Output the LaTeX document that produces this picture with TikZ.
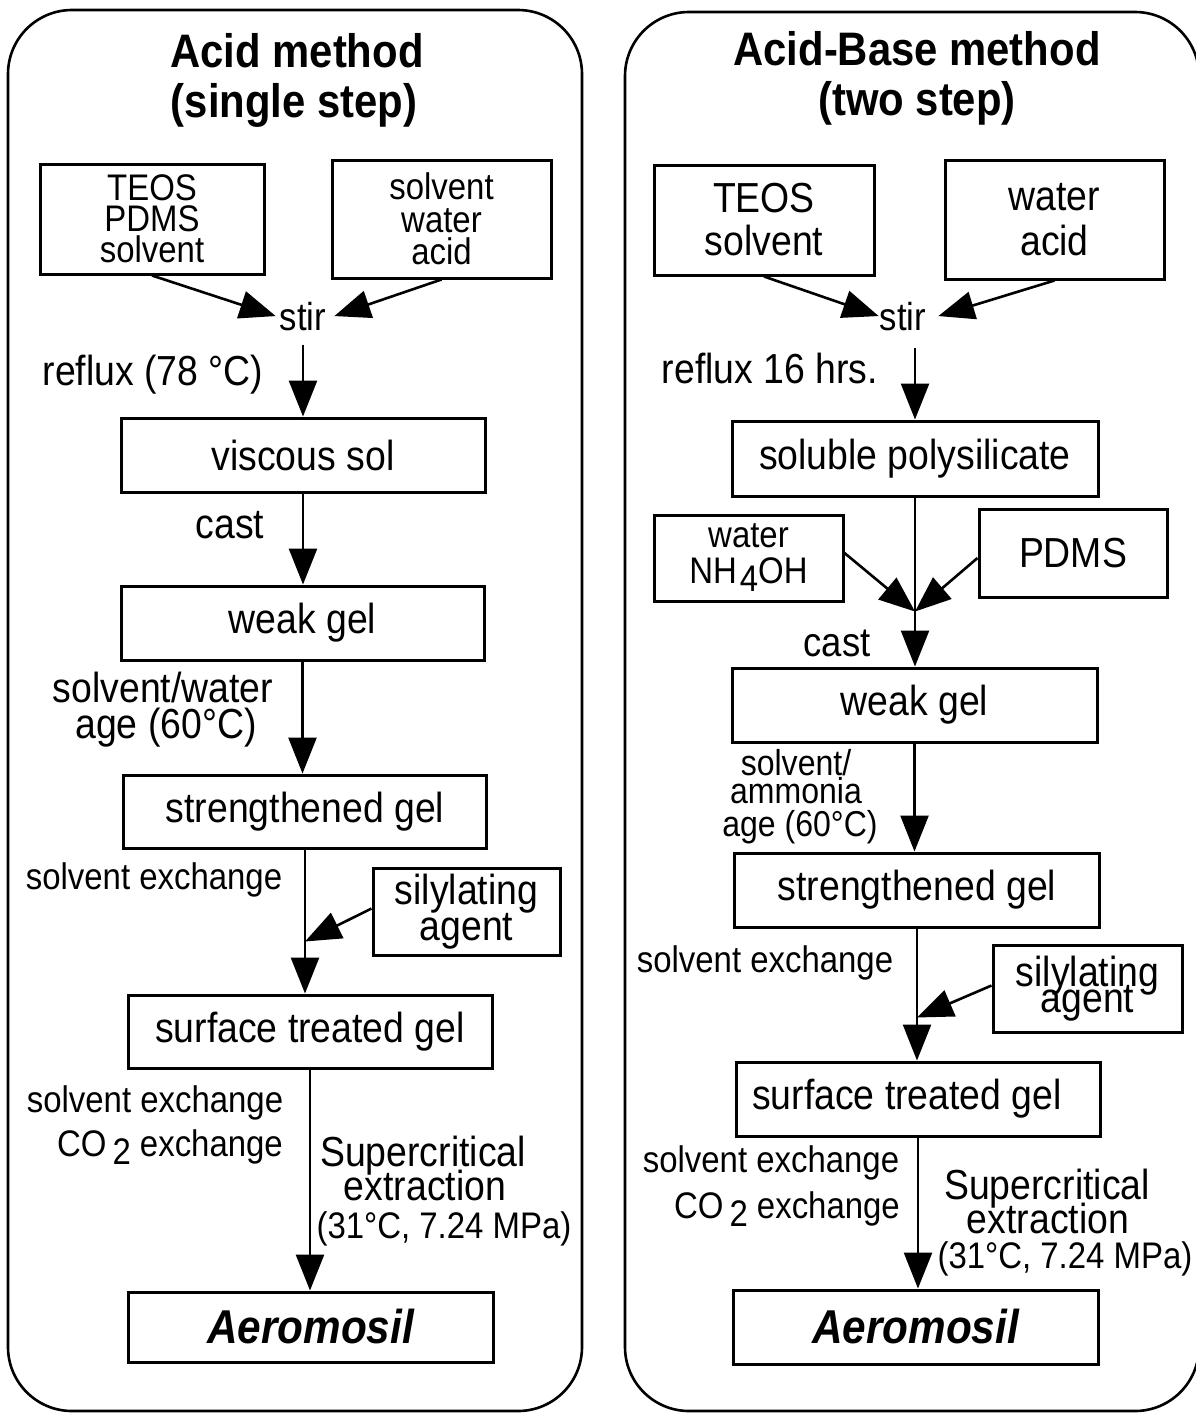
\documentclass[tikz,border=0pt]{standalone}
\usepackage{fontspec}
\setmainfont{Liberation Sans}[FakeStretch=0.89]
\usetikzlibrary{arrows.meta,calc}
\tikzset{
  box/.style={draw, line width=3pt, inner sep=0pt, align=center},
  lbl/.style={inner sep=0pt, anchor=base},
  fsz/.style 2 args={font={\fontsize{#1pt}{#2pt}\selectfont}},
  ttl/.style={inner sep=0pt, anchor=base, font={\fontsize{47pt}{52pt}\selectfont\bfseries}},
  aer/.style={font={\fontsize{47.5pt}{50pt}\selectfont\bfseries\itshape}},
  arr/.style={line width=2.6pt, -{Triangle[length=36pt,width=28pt]}},
  ln/.style={line width=2.6pt},
  panel/.style={draw, line width=2.6pt, rounded corners=64pt}
}
\begin{document}
\lineskiplimit=-100pt\relax
\begin{tikzpicture}[x=1pt,y=-1pt]
\useasboundingbox (0,0) rectangle (1196,1414);
\draw[panel] (8,10) rectangle (582,1411);
\draw[panel] (625,12) rectangle (1199,1411);

% ---------------- left panel ----------------
\node[ttl] (tA1) at (297,67) {Acid method};
\node[ttl] (tA2) at (294,117) {(single step)};
\node[box, fsz={37}{31}, minimum width=224pt, minimum height=110pt] (A1) at (152,219) {TEOS\\PDMS\\solvent};
\node[box, fsz={37}{32.5}, minimum width=219pt, minimum height=118pt] (A2) at (441.5,219) {solvent\\water\\acid};
\node[lbl, fsz={39}{39}] (stir) at (303,330) {stir};
\node[lbl, fsz={42}{42}] (rfx) at (153,385) {reflux (78 °C)};
\node[box, fsz={42}{42}, minimum width=364pt, minimum height=74pt] (visc) at (303,455) {viscous sol};
\node[lbl, fsz={42}{42}] (cast) at (230,538) {cast};
\node[box, fsz={42}{42}, minimum width=363pt, minimum height=74pt] (weak) at (302.5,623) {weak gel};
\node[lbl, fsz={42}{42}] (sw1) at (163,702) {solvent/water};
\node[lbl, fsz={42}{42}] (sw2) at (166,738) {age (60°C)};
\node[box, fsz={42}{42}, minimum width=363pt, minimum height=73pt] (strong) at (305,811.5) {strengthened gel};
\node[lbl, fsz={37}{37}] (se1) at (154,889) {solvent exchange};
\node[box, fsz={42}{36}, minimum width=187pt, minimum height=87pt] (sil) at (466.5,911.5) {silylating\\agent};
\node[box, fsz={42}{42}, minimum width=364pt, minimum height=73pt] (surf) at (310,1031.5) {surface treated gel};
\node[lbl, fsz={37}{37}] (se2) at (155,1112) {solvent exchange};
\node[lbl, fsz={37}{37}, anchor=base east] (co1) at (283,1156) {CO\hspace{6pt}\raisebox{-8pt}{2} exchange};
\node[lbl, fsz={42}{42}] (sc1) at (423,1166) {Supercritical};
\node[lbl, fsz={42}{42}] (sc2) at (425,1200) {extraction};
\node[lbl, fsz={37}{37}] (sc3) at (444,1238) {(31°C, 7.24 MPa)};
\node[box, aer, minimum width=365pt, minimum height=70pt] (aero) at (310.5,1327) {Aeromosil};

\draw[arr] (A1.south) -- ([xshift=-4pt]stir.west);
\draw[arr] (A2.south) -- ([xshift=8pt]stir.east);
\draw[arr] ($(stir.south -| visc.north)+(0,14)$) -- (visc.north);
\draw[arr] (visc.south) -- (visc.south |- weak.north);
\draw[arr] (weak.south) -- (weak.south |- strong.north);
\path (strong.south) ++(0,92) coordinate (j1);
\draw[arr] (strong.south) -- (strong.south |- surf.north);
\draw[arr] ([yshift=3pt]sil.west) -- (j1);
\draw[arr] (surf.south) -- (surf.south |- aero.north);

% ---------------- right panel ----------------
\node[ttl] (tB1) at (917,65) {Acid-Base method};
\node[ttl] (tB2) at (917,115) {(two step)};
\node[box, fsz={42}{43}, minimum width=220pt, minimum height=110pt] (B1) at (764,220) {TEOS\\solvent};
\node[box, fsz={42}{45}, minimum width=219pt, minimum height=119pt] (B2) at (1054.5,219.5) {water\\acid};
\node[lbl, fsz={39}{39}] (stirR) at (903,330) {stir};
\node[lbl, fsz={42}{42}] (rfxR) at (770,383) {reflux 16 hrs.};
\node[box, fsz={42}{42}, minimum width=366pt, minimum height=75pt] (sol) at (915,458.5) {soluble polysilicate};
\node[box, fsz={37}{36}, minimum width=189pt, minimum height=86pt] (wat) at (748.5,558) {water\\NH\hspace{3pt}\raisebox{-8pt}{4}OH};
\node[box, fsz={42}{42}, minimum width=188pt, minimum height=88pt] (pdms) at (1073,553) {PDMS};
\node[lbl, fsz={41}{41}] (castR) at (837,656) {cast};
\node[box, fsz={42}{42}, minimum width=365pt, minimum height=74pt] (weakR) at (914.5,705) {weak gel};
\node[lbl, fsz={36}{36}] (sa1) at (796,775) {solvent/};
\node[lbl, fsz={36}{36}] (sa2) at (796,803) {ammonia};
\node[lbl, fsz={36}{36}] (sa3) at (800,836) {age (60°C)};
\node[box, fsz={42}{42}, minimum width=365pt, minimum height=74pt] (strR) at (917,890) {strengthened gel};
\node[lbl, fsz={37}{37}] (se3) at (765,972) {solvent exchange};
\node[box, fsz={42}{26}, minimum width=189pt, minimum height=87pt] (silR) at (1087.5,988.5) {silylating\\agent};
\node[box, fsz={42}{42}, minimum width=364pt, minimum height=74pt] (surfR) at (918,1099) {\hspace*{-22pt}surface treated gel};
\node[lbl, fsz={37}{37}] (se4) at (771,1172) {solvent exchange};
\node[lbl, fsz={37}{37}, anchor=base east] (co2) at (900,1218) {CO\hspace{6pt}\raisebox{-8pt}{2} exchange};
\node[lbl, fsz={42}{42}] (sc4) at (1047,1199) {Supercritical};
\node[lbl, fsz={42}{42}] (sc5) at (1048,1233) {extraction};
\node[lbl, fsz={37}{37}] (sc6) at (1065,1268) {(31°C, 7.24 MPa)};
\node[box, aer, minimum width=365pt, minimum height=74pt] (aeroR) at (915.5,1327) {Aeromosil};

\draw[arr] (B1.south) -- ([xshift=-1pt]stirR.west);
\draw[arr] (B2.south) -- ([xshift=12pt]stirR.east);
\draw[arr] ($(stirR.south -| sol.north)+(0,17)$) -- (sol.north);
\path (sol.south) ++(0,114) coordinate (m);
\draw[ln] (sol.south) -- (m);
\draw[arr] ([yshift=5pt]wat.east) -- (m);
\draw[arr] ([yshift=-5pt]pdms.west) -- (m);
\draw[arr] (m) -- (m |- weakR.north);
\draw[arr] (weakR.south) -- (weakR.south |- strR.north);
\path (strR.south) ++(0,89) coordinate (j2);
\draw[arr] (strR.south) -- (strR.south |- surfR.north);
\draw[arr] ([yshift=3pt]silR.west) -- (j2);
\draw[arr] (surfR.south) -- (surfR.south |- aeroR.north);
\end{tikzpicture}
\end{document}
